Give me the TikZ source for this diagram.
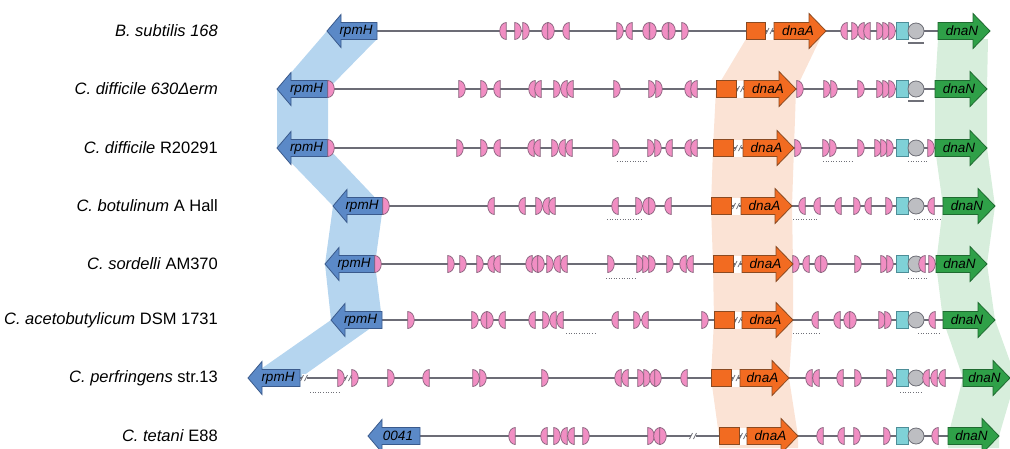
\documentclass[tikz,border=0pt]{standalone}
\usepackage{fontspec}
\setmainfont{Liberation Sans}
\definecolor{bluef}{HTML}{5B89C7}
\definecolor{blued}{HTML}{3A5A8C}
\definecolor{blueband}{HTML}{B5D5EF}
\definecolor{orf}{HTML}{F26B21}
\definecolor{ord}{HTML}{8A4A22}
\definecolor{orband}{HTML}{FBE3D5}
\definecolor{grf}{HTML}{2FA048}
\definecolor{grd}{HTML}{1E6A30}
\definecolor{grband}{HTML}{D7EEDC}
\definecolor{pkf}{HTML}{F18EC3}
\definecolor{pkd}{HTML}{85607A}
\definecolor{cyf}{HTML}{7FD1D7}
\definecolor{cyd}{HTML}{4D8E98}
\definecolor{gyf}{HTML}{BDBEC2}
\definecolor{gyd}{HTML}{6F7078}
\definecolor{lnc}{HTML}{6C6C76}
\tikzset{
  pk/.style={fill=pkf,draw=pkd,line width=0.7},
  bluea/.style={fill=bluef,draw=blued,line width=0.8},
  ora/.style={fill=orf,draw=ord,line width=0.8},
  gra/.style={fill=grf,draw=grd,line width=0.8},
  cyb/.style={fill=cyf,draw=cyd,line width=0.8},
  gyc/.style={fill=gyf,draw=gyd,line width=0.8},
  backbone/.style={draw=lnc,line width=1.1},
  dotl/.style={draw=gyd,line width=0.7,dash pattern=on 1pt off 1.6pt},
  undl/.style={draw=gyd,line width=1.3},
  brkl/.style={draw=gyd,line width=0.8},
  glab/.style={font=\fontsize{13.5}{15}\selectfont\itshape,inner sep=0pt},
  sp/.style={font=\fontsize{16.5}{19}\selectfont,anchor=east,inner sep=0pt}
}
\newcommand\pinks[2]{\foreach \p/\d in {#2}{\path[pk] ({\p-3.2*\d},{#1-8.5}) -- ++(0,17) arc[start angle=90,delta angle={-180*\d},x radius=6.5,y radius=8.5] -- cycle;}}
\newcommand\larrow[5]{\path[bluea] (#3,#2) -- ({#3+14},{#2-16.5}) -- ({#3+14},{#2-8.5}) -- (#4,{#2-8.5}) -- (#4,{#2+8.5}) -- ({#3+14},{#2+8.5}) -- ({#3+14},{#2+16.5}) -- cycle;
  \node[glab] (#1) at ({(#3+#4)/2+4},#2) {#5};}
\newcommand\rarrow[6]{\path[#6] (#3,{#2-8.5}) -- ({#4-17},{#2-8.5}) -- ({#4-17},{#2-17.5}) -- (#4,#2) -- ({#4-17},{#2+17.5}) -- ({#4-17},{#2+8.5}) -- (#3,{#2+8.5}) -- cycle;
  \node[glab] (#1) at ({(#3+#4)/2-2},#2) {#5};}
\newcommand\obox[3]{\path[ora] (#2,{#1-8.5}) rectangle (#3,{#1+8.5});}
\newcommand\gapw[3]{\fill[white] (#2,{#1-8.5}) rectangle (#3,{#1+8.5});}
\newcommand\brk[2]{\fill[white] ({#1-2.5},{#2-4}) rectangle ({#1+2.5},{#2+4});
  \draw[brkl] ({#1-3.5},{#2+3}) -- ({#1-0.5},{#2-3}) ({#1+0.5},{#2+3}) -- ({#1+3.5},{#2-3});}
\newcommand\cyc[1]{\path[cyb] (896,{#1-8.5}) rectangle (908,{#1+8.5}); \path[gyc] (916,#1) circle[radius=8];}
\begin{document}
\begin{tikzpicture}[x=1pt,y=-1pt]
\useasboundingbox (0,0) rectangle (1010,448);
% shaded bands
\fill[blueband] (327,31) -- (277,89) -- (277,148) -- (333,206) -- (325,264) -- (331,320) -- (248,378) -- (300,378) -- (382,320) -- (375,264) -- (383,206) -- (328,148) -- (328,89) -- (377,39) -- cycle;
\fill[orband] (746,39) -- (716,89) -- (713,148) -- (711,206) -- (713,264) -- (714,320) -- (711,378) -- (719,436) -- (719,448) -- (798,448) -- (798,436) -- (789,378) -- (793,320) -- (793,264) -- (792,206) -- (794,148) -- (796,89) -- (820,39) -- cycle;
\fill[grband] (938,39) -- (935,89) -- (935,148) -- (943,206) -- (936,264) -- (943,320) -- (963,378) -- (948,436) -- (948,448) -- (999,448) -- (999,436) -- (1016,378) -- (995,320) -- (987,264) -- (995,206) -- (987,148) -- (987,89) -- (988,39) -- cycle;
% white gaps box-dnaA
\gapw{31}{765}{774}\gapw{89}{736}{744}\gapw{148}{733}{743}\gapw{206}{731}{741}
\gapw{264}{733}{742}\gapw{320}{734}{742}\gapw{378}{731}{740}\gapw{436}{739}{747}
% backbones
\draw[backbone] (377,31) -- (938,31);
\draw[backbone] (328,89) -- (935,89);
\draw[backbone] (328,148) -- (935,148);
\draw[backbone] (383,206) -- (943,206);
\draw[backbone] (375,264) -- (936,264);
\draw[backbone] (382,320) -- (943,320);
\draw[backbone] (300,378) -- (963,378);
\draw[backbone] (420,436) -- (948,436);
% break marks
\brk{769.5}{31}\brk{740}{89}\brk{738}{148}\brk{736}{206}\brk{737.5}{264}\brk{738}{320}\brk{735.5}{378}\brk{743}{436}
\brk{304}{378}\brk{348}{378}\brk{693}{436}
% labels
\node[sp] (l1) at (218,31) {\textit{B. subtilis 168}};
\node[sp] (l2) at (218,89) {\textit{C. difficile 630Δerm}};
\node[sp] (l3) at (218,148) {\textit{C. difficile} R20291};
\node[sp] (l4) at (218,206) {\textit{C. botulinum} A Hall};
\node[sp] (l5) at (218,264) {\textit{C. sordelli} AM370};
\node[sp] (l6) at (218,320) {\textit{C. acetobutylicum} DSM 1731};
\node[sp] (l7) at (218,378) {\textit{C. perfringens} str.13};
\node[sp] (l8) at (218,436) {\textit{C. tetani} E88};
% row 1
\larrow{r1}{31}{327}{377}{rpmH}
\pinks{31}{503/-1,518/1,526/1,545/-1,551/1,566/-1,620/1,629/-1,646/-1,653/1,665/-1,672/1,685/1,844/-1,855/1,861/-1,867/-1,880/1,886/1,892/1}
\obox{31}{746}{765}
\rarrow{a1}{31}{774}{826}{dnaA}{ora}
\cyc{31}
\draw[undl] (908,43) -- (924,43);
\rarrow{n1}{31}{938}{990}{dnaN}{gra}
% row 2
\larrow{r2}{89}{277}{328}{rpmH}
\pinks{89}{331/1,462/1,484/1,497/-1,532/-1,538/-1,557/1,564/-1,570/-1,617/1,652/1,659/1,688/-1,694/-1,800/1,827/1,834/1,861/1,880/1,886/1,892/1}
\obox{89}{716}{736}
\rarrow{a2}{89}{744}{796}{dnaA}{ora}
\cyc{89}
\draw[undl] (908,101) -- (924,101);
\rarrow{n2}{89}{935}{987}{dnaN}{gra}
% row 3
\larrow{r3}{148}{277}{328}{rpmH}
\pinks{148}{331/1,460/1,484/1,497/-1,531/-1,537/-1,555/1,562/-1,569/-1,616/1,651/1,658/1,669/-1,688/-1,694/-1,798/1,826/1,833/1,861/1,878/1,884/1,890/1}
\obox{148}{713}{733}
\rarrow{a3}{148}{743}{794}{dnaA}{ora}
\cyc{148}
\pinks{148}{931/1}
\rarrow{n3}{148}{935}{987}{dnaN}{gra}
\draw[dotl] (617,161) -- (647,161) (823,161) -- (853,161) (908,161) -- (928,161);
% row 4
\larrow{r4}{206}{333}{383}{rpmH}
\pinks{206}{386/1,491/-1,522/-1,539/1,546/-1,552/-1,615/-1,639/1,646/-1,652/1,668/-1,802/-1,817/-1,838/-1,857/1,868/-1,889/1}
\obox{206}{711}{731}
\rarrow{a4}{206}{741}{792}{dnaA}{ora}
\cyc{206}
\pinks{206}{931/-1}
\rarrow{n4}{206}{943}{995}{dnaN}{gra}
\draw[dotl] (607,219) -- (643,219) (793,219) -- (818,219) (914,219) -- (941,219);
% row 5
\larrow{r5}{264}{325}{375}{rpmH}
\pinks{264}{378/1,451/1,463/1,480/1,491/-1,497/-1,529/-1,535/-1,541/1,550/1,557/-1,564/-1,611/1,640/1,646/1,652/1,670/1,683/-1,690/-1,796/1,806/-1,818/-1,824/1,858/1,884/1,890/1}
\obox{264}{713}{733}
\rarrow{a5}{264}{742}{793}{dnaA}{ora}
\cyc{264}
\pinks{264}{922/-1,932/1}
\rarrow{n5}{264}{936}{987}{dnaN}{gra}
\draw[dotl] (606,278) -- (636,278) (908,278) -- (928,278);
% row 6
\larrow{r6}{320}{331}{382}{rpmH}
\pinks{320}{411/1,475/1,484/-1,490/1,502/-1,532/-1,546/1,553/-1,560/-1,615/-1,637/1,645/-1,705/1,815/-1,837/-1,847/-1,853/1,882/1,888/1}
\obox{320}{714}{734}
\rarrow{a6}{320}{742}{793}{dnaA}{ora}
\cyc{320}
\pinks{320}{932/-1}
\rarrow{n6}{320}{943}{995}{dnaN}{gra}
\draw[dotl] (566,333) -- (596,333) (793,333) -- (820,333) (918,333) -- (940,333);
% row 7
\larrow{r7}{378}{248}{300}{rpmH}
\pinks{378}{341/1,355/1,391/1,426/-1,476/1,483/1,545/1,618/-1,625/-1,641/1,647/1,653/-1,658/1,684/-1,809/-1,816/-1,840/-1,858/1,890/1}
\obox{378}{711}{731}
\rarrow{a7}{378}{740}{789}{dnaA}{ora}
\cyc{378}
\pinks{378}{926/-1,934/-1,942/-1}
\rarrow{n7}{378}{963}{1010}{dnaN}{gra}
\draw[dotl] (310,392) -- (340,392) (900,392) -- (923,392);
% row 8
\larrow{r8}{436}{368}{420}{0041}
\pinks{436}{512/-1,544/-1,557/1,564/-1,571/-1,586/1,651/1,657/-1,663/1,820/-1,841/-1,857/1,887/1}
\obox{436}{719}{739}
\rarrow{a8}{436}{747}{798}{dnaA}{ora}
\cyc{436}
\pinks{436}{935/-1}
\rarrow{n8}{436}{948}{999}{dnaN}{gra}
\end{tikzpicture}
\end{document}
